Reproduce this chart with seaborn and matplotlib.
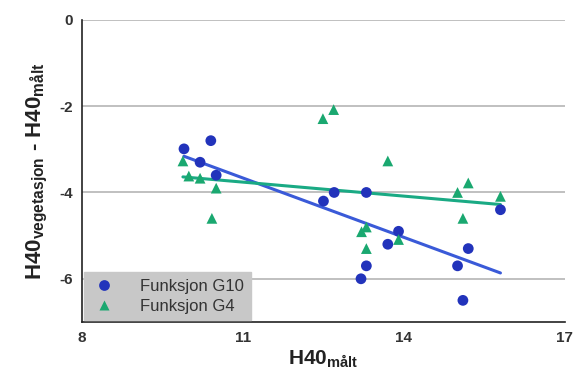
import matplotlib
matplotlib.use("Agg")
import matplotlib.pyplot as plt
import seaborn as sns
import pandas as pd

# Funksjon G10 (circles)
g10_x = [9.90, 10.40, 10.20, 10.50, 12.50, 12.70, 13.30, 13.90, 13.70, 13.30, 13.20, 15.00, 15.20, 15.10, 15.80]
g10_y = [-2.99, -2.80, -3.30, -3.60, -4.20, -4.00, -4.00, -4.90, -5.20, -5.70, -6.00, -5.70, -5.30, -6.50, -4.40]

# Funksjon G4 (triangles)
g4_x = [9.88, 9.99, 10.20, 10.50, 10.42, 12.49, 12.69, 13.70, 13.21, 13.30, 13.30, 13.90, 15.00, 15.20, 15.10, 15.80]
g4_y = [-3.27, -3.62, -3.67, -3.90, -4.60, -2.29, -2.08, -3.27, -4.91, -4.80, -5.30, -5.09, -4.00, -3.78, -4.60, -4.09]

labels = ["Funksjon G10", "Funksjon G4"]
x_ticks = [8, 11, 14, 17]
y_ticks = [-6, -4, -2, 0]

df = pd.DataFrame({
    "x": g10_x + g4_x,
    "y": g10_y + g4_y,
    "funksjon": [labels[0]] * len(g10_x) + [labels[1]] * len(g4_x),
})

sns.set_style("white")
plt.rcParams["font.family"] = ["Liberation Sans", "DejaVu Sans"]
plt.rcParams["axes.unicode_minus"] = False
plt.rcParams["mathtext.fontset"] = "custom"
plt.rcParams["mathtext.rm"] = "Liberation Sans"
plt.rcParams["mathtext.bf"] = "Liberation Sans:bold"

fig = plt.figure(figsize=(5.74, 3.81), dpi=100)
ax = fig.add_axes([0.143, 0.155, 0.841, 0.793])

palette = {labels[0]: "#2233bb", labels[1]: "#1aa870"}
line_cols = {labels[0]: "#3a5ad8", labels[1]: "#1aaa84"}
markers = {labels[0]: "o", labels[1]: "^"}

for lab in labels:
    sub = df[df["funksjon"] == lab]
    sns.regplot(data=sub, x="x", y="y", ax=ax, ci=None, scatter=False,
                line_kws={"color": line_cols[lab], "lw": 2.2, "zorder": 2})

sns.scatterplot(data=df, x="x", y="y", hue="funksjon", style="funksjon",
                palette=palette, markers=markers, s=60, edgecolor="none",
                ax=ax, zorder=3)

ax.set_xlim(8, 17)
ax.set_ylim(-7, 0)
ax.set_xticks(x_ticks)
ax.set_yticks(y_ticks)
ax.yaxis.grid(True, color="#b5b5b5", lw=1.2)
ax.set_axisbelow(True)
for s in ["top", "right"]:
    ax.spines[s].set_visible(False)
for s in ["left", "bottom"]:
    ax.spines[s].set_color("#222222")
    ax.spines[s].set_linewidth(1.2)
ax.tick_params(axis="both", direction="inout", length=6, width=1, color="#222222",
               labelsize=11, labelcolor="#333333")
for t in ax.get_xticklabels() + ax.get_yticklabels():
    t.set_fontweight("bold")

ax.set_xlabel(r"$\mathbf{H40_{målt}}$", fontsize=15, color="#222222", labelpad=3)
ax.set_ylabel(r"$\mathbf{H40_{vegetasjon}}$ - $\mathbf{H40_{målt}}$", fontsize=16,
              fontweight="bold", color="#222222", labelpad=7)

leg = ax.legend(loc="lower left", frameon=True, fontsize=12, borderaxespad=0.1,
                handletextpad=1.4, borderpad=0.4, labelspacing=0.3, fancybox=False,
                handlelength=1.6)
leg.get_frame().set_facecolor("#c8c8c8")
leg.get_frame().set_edgecolor("#c8c8c8")
leg.get_frame().set_alpha(1)
for t in leg.get_texts():
    t.set_color("#333333")

fig.savefig("out.png", dpi=100)
